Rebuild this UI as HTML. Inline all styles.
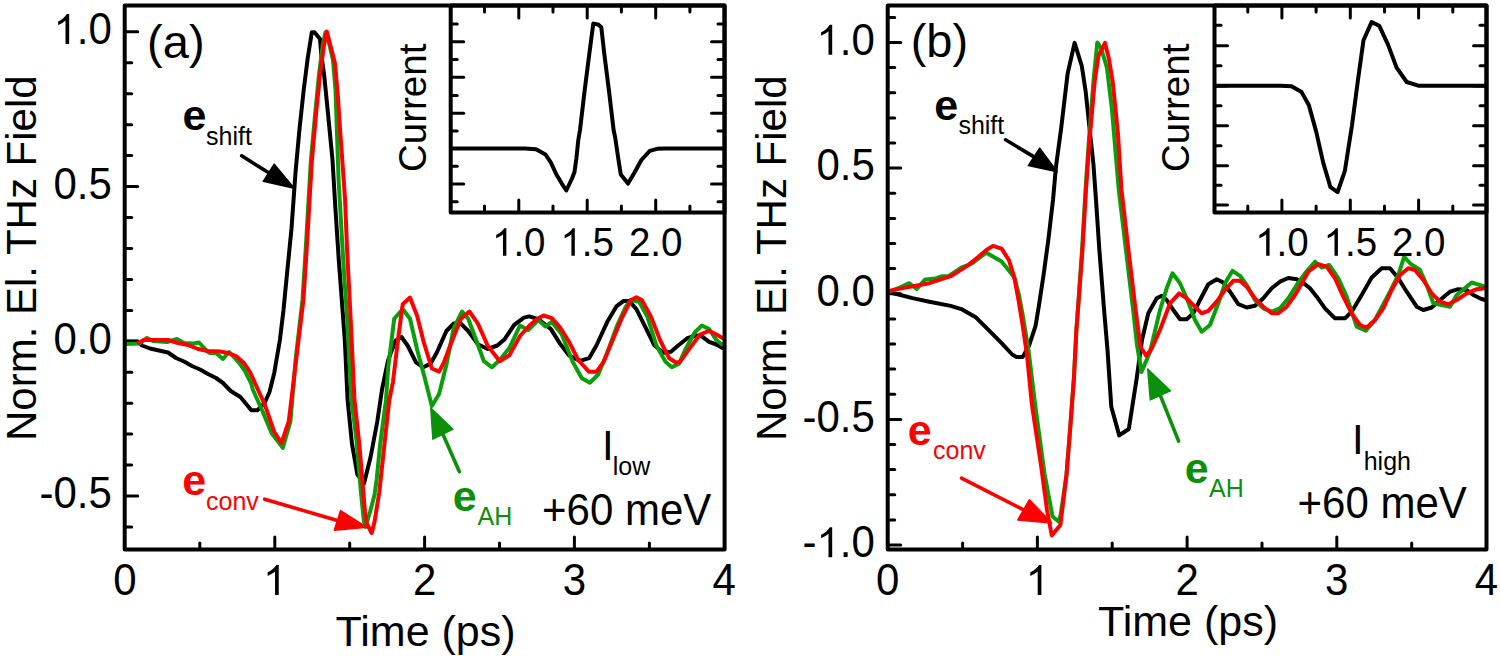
<!DOCTYPE html>
<html><head><meta charset="utf-8"><title>THz field</title>
<style>html,body{margin:0;padding:0;background:#fff;}body{width:1500px;height:660px;overflow:hidden;font-family:"Liberation Sans",sans-serif;}svg{display:block;}</style>
</head><body>
<svg width="1500" height="660" viewBox="0 0 1500 660" font-family="Liberation Sans, sans-serif">
<rect width="1500" height="660" fill="#fff"/>
<line x1="124.7" y1="527.0" x2="131.7" y2="527.0" stroke="#000" stroke-width="3.0" stroke-linecap="round"/><line x1="124.7" y1="496.1" x2="137.7" y2="496.1" stroke="#000" stroke-width="3.0" stroke-linecap="round"/><line x1="124.7" y1="465.1" x2="131.7" y2="465.1" stroke="#000" stroke-width="3.0" stroke-linecap="round"/><line x1="124.7" y1="434.1" x2="131.7" y2="434.1" stroke="#000" stroke-width="3.0" stroke-linecap="round"/><line x1="124.7" y1="403.2" x2="131.7" y2="403.2" stroke="#000" stroke-width="3.0" stroke-linecap="round"/><line x1="124.7" y1="372.2" x2="131.7" y2="372.2" stroke="#000" stroke-width="3.0" stroke-linecap="round"/><line x1="124.7" y1="341.3" x2="137.7" y2="341.3" stroke="#000" stroke-width="3.0" stroke-linecap="round"/><line x1="124.7" y1="310.4" x2="131.7" y2="310.4" stroke="#000" stroke-width="3.0" stroke-linecap="round"/><line x1="124.7" y1="279.4" x2="131.7" y2="279.4" stroke="#000" stroke-width="3.0" stroke-linecap="round"/><line x1="124.7" y1="248.5" x2="131.7" y2="248.5" stroke="#000" stroke-width="3.0" stroke-linecap="round"/><line x1="124.7" y1="217.5" x2="131.7" y2="217.5" stroke="#000" stroke-width="3.0" stroke-linecap="round"/><line x1="124.7" y1="186.6" x2="137.7" y2="186.6" stroke="#000" stroke-width="3.0" stroke-linecap="round"/><line x1="124.7" y1="155.6" x2="131.7" y2="155.6" stroke="#000" stroke-width="3.0" stroke-linecap="round"/><line x1="124.7" y1="124.7" x2="131.7" y2="124.7" stroke="#000" stroke-width="3.0" stroke-linecap="round"/><line x1="124.7" y1="93.7" x2="131.7" y2="93.7" stroke="#000" stroke-width="3.0" stroke-linecap="round"/><line x1="124.7" y1="62.8" x2="131.7" y2="62.8" stroke="#000" stroke-width="3.0" stroke-linecap="round"/><line x1="124.7" y1="31.8" x2="137.7" y2="31.8" stroke="#000" stroke-width="3.0" stroke-linecap="round"/><line x1="199.8" y1="549.5" x2="199.8" y2="543.0" stroke="#000" stroke-width="3.0" stroke-linecap="round"/><line x1="274.8" y1="549.5" x2="274.8" y2="537.0" stroke="#000" stroke-width="3.0" stroke-linecap="round"/><line x1="349.7" y1="549.5" x2="349.7" y2="543.0" stroke="#000" stroke-width="3.0" stroke-linecap="round"/><line x1="424.6" y1="549.5" x2="424.6" y2="537.0" stroke="#000" stroke-width="3.0" stroke-linecap="round"/><line x1="499.5" y1="549.5" x2="499.5" y2="543.0" stroke="#000" stroke-width="3.0" stroke-linecap="round"/><line x1="574.4" y1="549.5" x2="574.4" y2="537.0" stroke="#000" stroke-width="3.0" stroke-linecap="round"/><line x1="649.4" y1="549.5" x2="649.4" y2="543.0" stroke="#000" stroke-width="3.0" stroke-linecap="round"/><path d="M373 0L285 0L285 560C264 540 236 520 201 499C167 479 136 464 109 454L109 539C158 562 201 590 238 623C275 656 301 688 317 716L373 716Z" fill="#000" transform="translate(53.52,44.10) scale(0.04200,-0.04200)"/><text transform="translate(76.87,44.10) scale(1,1.04)" font-size="42" fill="#000">.0</text><text transform="translate(53.52,198.85) scale(1,1.04)" font-size="42" fill="#000">0.5</text><text transform="translate(53.52,353.60) scale(1,1.04)" font-size="42" fill="#000">0.0</text><text transform="translate(39.53,508.35) scale(1,1.04)" font-size="42" fill="#000">-0.5</text><text transform="translate(113.22,595.00) scale(1,1.04)" font-size="42" fill="#000">0</text><path d="M373 0L285 0L285 560C264 540 236 520 201 499C167 479 136 464 109 454L109 539C158 562 201 590 238 623C275 656 301 688 317 716L373 716Z" fill="#000" transform="translate(263.07,595.00) scale(0.04200,-0.04200)"/><text transform="translate(412.92,595.00) scale(1,1.04)" font-size="42" fill="#000">2</text><text transform="translate(562.77,595.00) scale(1,1.04)" font-size="42" fill="#000">3</text><text transform="translate(712.62,595.00) scale(1,1.04)" font-size="42" fill="#000">4</text><text x="425.6" y="645.5" font-size="43" text-anchor="middle" font-weight="normal" fill="#000" >Time (ps)</text><text x="0" y="0" font-size="42" text-anchor="middle" transform="translate(36.4,258.2) rotate(-90)">Norm. El. THz Field</text>
<line x1="887.7" y1="545.0" x2="900.7" y2="545.0" stroke="#000" stroke-width="3.0" stroke-linecap="round"/><line x1="887.7" y1="519.9" x2="894.7" y2="519.9" stroke="#000" stroke-width="3.0" stroke-linecap="round"/><line x1="887.7" y1="494.8" x2="894.7" y2="494.8" stroke="#000" stroke-width="3.0" stroke-linecap="round"/><line x1="887.7" y1="469.6" x2="894.7" y2="469.6" stroke="#000" stroke-width="3.0" stroke-linecap="round"/><line x1="887.7" y1="444.5" x2="894.7" y2="444.5" stroke="#000" stroke-width="3.0" stroke-linecap="round"/><line x1="887.7" y1="419.4" x2="900.7" y2="419.4" stroke="#000" stroke-width="3.0" stroke-linecap="round"/><line x1="887.7" y1="394.2" x2="894.7" y2="394.2" stroke="#000" stroke-width="3.0" stroke-linecap="round"/><line x1="887.7" y1="369.1" x2="894.7" y2="369.1" stroke="#000" stroke-width="3.0" stroke-linecap="round"/><line x1="887.7" y1="344.0" x2="894.7" y2="344.0" stroke="#000" stroke-width="3.0" stroke-linecap="round"/><line x1="887.7" y1="318.9" x2="894.7" y2="318.9" stroke="#000" stroke-width="3.0" stroke-linecap="round"/><line x1="887.7" y1="293.8" x2="900.7" y2="293.8" stroke="#000" stroke-width="3.0" stroke-linecap="round"/><line x1="887.7" y1="268.6" x2="894.7" y2="268.6" stroke="#000" stroke-width="3.0" stroke-linecap="round"/><line x1="887.7" y1="243.5" x2="894.7" y2="243.5" stroke="#000" stroke-width="3.0" stroke-linecap="round"/><line x1="887.7" y1="218.4" x2="894.7" y2="218.4" stroke="#000" stroke-width="3.0" stroke-linecap="round"/><line x1="887.7" y1="193.2" x2="894.7" y2="193.2" stroke="#000" stroke-width="3.0" stroke-linecap="round"/><line x1="887.7" y1="168.1" x2="900.7" y2="168.1" stroke="#000" stroke-width="3.0" stroke-linecap="round"/><line x1="887.7" y1="143.0" x2="894.7" y2="143.0" stroke="#000" stroke-width="3.0" stroke-linecap="round"/><line x1="887.7" y1="117.9" x2="894.7" y2="117.9" stroke="#000" stroke-width="3.0" stroke-linecap="round"/><line x1="887.7" y1="92.8" x2="894.7" y2="92.8" stroke="#000" stroke-width="3.0" stroke-linecap="round"/><line x1="887.7" y1="67.6" x2="894.7" y2="67.6" stroke="#000" stroke-width="3.0" stroke-linecap="round"/><line x1="887.7" y1="42.5" x2="900.7" y2="42.5" stroke="#000" stroke-width="3.0" stroke-linecap="round"/><line x1="887.7" y1="17.4" x2="894.7" y2="17.4" stroke="#000" stroke-width="3.0" stroke-linecap="round"/><line x1="962.6" y1="549.6" x2="962.6" y2="543.1" stroke="#000" stroke-width="3.0" stroke-linecap="round"/><line x1="1037.4" y1="549.6" x2="1037.4" y2="537.1" stroke="#000" stroke-width="3.0" stroke-linecap="round"/><line x1="1112.2" y1="549.6" x2="1112.2" y2="543.1" stroke="#000" stroke-width="3.0" stroke-linecap="round"/><line x1="1187.1" y1="549.6" x2="1187.1" y2="537.1" stroke="#000" stroke-width="3.0" stroke-linecap="round"/><line x1="1262.0" y1="549.6" x2="1262.0" y2="543.1" stroke="#000" stroke-width="3.0" stroke-linecap="round"/><line x1="1336.8" y1="549.6" x2="1336.8" y2="537.1" stroke="#000" stroke-width="3.0" stroke-linecap="round"/><line x1="1411.7" y1="549.6" x2="1411.7" y2="543.1" stroke="#000" stroke-width="3.0" stroke-linecap="round"/><path d="M373 0L285 0L285 560C264 540 236 520 201 499C167 479 136 464 109 454L109 539C158 562 201 590 238 623C275 656 301 688 317 716L373 716Z" fill="#000" transform="translate(816.52,54.80) scale(0.04200,-0.04200)"/><text transform="translate(839.87,54.80) scale(1,1.04)" font-size="42" fill="#000">.0</text><text transform="translate(816.52,180.43) scale(1,1.04)" font-size="42" fill="#000">0.5</text><text transform="translate(816.52,306.05) scale(1,1.04)" font-size="42" fill="#000">0.0</text><text transform="translate(802.53,431.68) scale(1,1.04)" font-size="42" fill="#000">-0.5</text><text transform="translate(802.53,557.30) scale(1,1.04)" font-size="42" fill="#000">-</text><path d="M373 0L285 0L285 560C264 540 236 520 201 499C167 479 136 464 109 454L109 539C158 562 201 590 238 623C275 656 301 688 317 716L373 716Z" fill="#000" transform="translate(816.52,557.30) scale(0.04200,-0.04200)"/><text transform="translate(839.87,557.30) scale(1,1.04)" font-size="42" fill="#000">.0</text><text transform="translate(876.02,595.00) scale(1,1.04)" font-size="42" fill="#000">0</text><path d="M373 0L285 0L285 560C264 540 236 520 201 499C167 479 136 464 109 454L109 539C158 562 201 590 238 623C275 656 301 688 317 716L373 716Z" fill="#000" transform="translate(1025.72,595.00) scale(0.04200,-0.04200)"/><text transform="translate(1175.42,595.00) scale(1,1.04)" font-size="42" fill="#000">2</text><text transform="translate(1325.12,595.00) scale(1,1.04)" font-size="42" fill="#000">3</text><text transform="translate(1474.82,595.00) scale(1,1.04)" font-size="42" fill="#000">4</text><text x="1188.0" y="635.5" font-size="43" text-anchor="middle" font-weight="normal" fill="#000" >Time (ps)</text><text x="0" y="0" font-size="42" text-anchor="middle" transform="translate(786.4,258.2) rotate(-90)">Norm. El. THz Field</text>
<polyline points="125.0,341.5 138.0,341.5 142.0,345.5 150.0,348.5 159.0,350.5 168.0,352.5 176.0,358.0 184.0,361.5 192.0,366.0 200.0,369.5 208.0,374.0 216.0,378.0 223.0,383.0 230.7,391.0 240.4,397.0 251.3,410.3 257.3,410.3 264.6,403.0 269.5,392.0 274.3,372.7 279.9,340.0 283.5,310.0 286.7,277.0 291.5,228.5 295.5,172.7 299.5,129.0 303.6,90.9 307.7,58.2 311.8,32.3 314.5,32.3 320.0,39.0 321.4,55.5 324.1,74.5 328.2,115.5 332.5,160.0 335.5,210.0 338.8,260.0 344.8,340.0 347.6,400.0 352.0,443.9 357.4,474.6 364.0,483.4 370.6,457.0 377.2,422.0 382.1,389.0 388.2,360.0 395.5,340.6 401.5,337.0 407.6,345.5 416.0,362.4 423.3,367.3 430.6,363.6 436.7,352.7 446.4,331.0 453.6,323.6 460.9,323.6 468.2,331.0 477.9,344.2 487.6,349.0 497.3,345.5 504.5,339.4 514.2,324.8 523.9,317.6 529.1,316.4 538.2,319.1 550.9,329.1 560.0,343.6 569.1,355.5 580.0,360.9 589.1,358.2 596.4,345.5 607.3,321.8 616.4,306.4 623.6,300.9 629.1,300.9 636.4,309.1 645.5,327.3 654.5,345.5 663.6,352.7 670.9,351.8 678.2,345.5 687.3,338.2 696.4,335.5 701.8,336.4 709.1,341.8 716.4,344.5 723.0,348.2" fill="none" stroke="#000" stroke-width="4.0" stroke-linejoin="round" stroke-linecap="round"/>
<polyline points="125.0,344.0 139.0,343.5 147.0,338.0 153.0,341.0 167.0,342.0 177.0,339.0 184.0,343.0 194.0,343.5 199.0,342.5 207.0,351.0 210.0,353.0 216.0,353.0 223.0,359.0 229.0,352.0 234.0,357.0 240.0,364.0 245.0,371.0 251.0,383.0 253.0,390.0 262.0,410.0 271.5,433.0 282.8,447.9 290.5,421.2 295.5,360.6 302.5,300.0 305.5,252.7 310.8,161.8 315.0,115.5 319.0,74.5 322.8,44.5 325.5,32.3 329.5,45.0 333.0,60.0 335.5,90.0 338.6,180.0 342.5,248.0 344.5,280.0 347.0,316.0 351.5,400.0 356.5,440.0 361.2,495.0 364.0,522.0 365.5,527.0 370.0,512.0 374.5,495.0 376.6,480.0 380.2,444.0 386.0,400.0 388.2,367.3 394.2,318.8 402.7,309.0 410.0,318.8 417.3,350.3 424.5,377.0 431.8,406.0 439.1,394.0 446.4,364.8 453.6,328.5 462.1,311.5 468.2,318.8 475.5,338.2 483.9,361.2 492.0,367.3 499.7,360.0 509.4,347.9 520.0,325.5 528.2,330.0 538.2,320.0 545.5,326.4 551.8,321.8 561.8,334.5 572.7,361.8 581.8,378.2 590.0,382.7 598.2,374.5 607.3,352.7 616.4,327.3 625.5,307.3 630.9,300.0 639.1,301.8 647.3,316.4 656.4,345.5 665.5,361.8 671.8,367.3 679.1,363.6 685.5,349.1 694.5,332.7 701.8,325.5 709.1,329.1 716.4,340.0 722.0,344.5" fill="none" stroke="#0a9f0a" stroke-width="4.0" stroke-linejoin="round" stroke-linecap="round"/>
<polyline points="138.5,342.5 144.0,340.0 154.0,340.0 168.0,340.0 178.0,343.0 188.0,345.0 198.0,349.0 208.0,351.0 220.0,351.5 228.0,353.0 236.0,356.0 244.0,363.0 250.0,372.0 255.0,383.0 264.6,404.2 274.3,432.0 281.6,443.0 288.8,421.2 296.1,360.6 303.4,300.0 306.5,252.7 311.8,161.8 315.9,115.5 320.0,74.5 324.1,44.5 326.8,31.5 330.9,47.3 335.0,63.6 337.7,93.6 340.4,134.5 343.2,172.7 345.1,200.0 347.0,248.0 350.5,316.0 354.5,400.0 359.3,443.9 365.0,512.0 367.0,524.0 371.7,533.0 374.5,522.0 379.3,492.2 384.5,443.9 389.3,400.0 393.0,381.8 397.9,340.6 402.7,304.2 410.0,297.5 417.3,316.4 423.3,340.6 431.8,368.5 439.1,371.6 443.9,362.4 451.2,343.0 460.9,318.8 469.4,311.5 477.9,323.6 487.6,345.5 499.7,361.2 509.4,355.2 520.0,336.0 530.0,325.0 538.2,318.2 543.6,315.5 551.8,318.2 560.0,327.3 569.1,341.8 578.2,360.0 589.1,371.8 596.4,371.8 603.6,361.8 612.7,340.0 621.8,318.2 630.9,300.0 636.4,297.3 641.8,300.0 650.9,316.4 660.0,340.0 669.1,358.2 676.4,362.7 680.0,361.8 689.1,349.1 700.0,334.5 709.1,330.9 716.4,334.5 723.0,338.2" fill="none" stroke="#ff0000" stroke-width="4.0" stroke-linejoin="round" stroke-linecap="round"/>
<polyline points="888.0,292.1 897.6,294.3 912.5,298.1 929.4,301.7 950.7,305.9 961.3,309.1 976.1,317.6 988.9,330.3 1001.6,343.1 1012.2,354.5 1016.4,356.9 1022.8,356.9 1029.2,345.2 1035.5,326.1 1038.8,306.4 1043.6,274.8 1048.5,238.5 1053.0,200.0 1056.0,166.5 1061.2,127.9 1067.6,73.8 1074.6,42.9 1081.8,66.0 1085.7,91.8 1089.5,127.9 1093.4,163.9 1096.0,200.0 1099.4,250.6 1104.2,311.2 1107.5,350.0 1111.3,406.8 1119.2,435.4 1128.8,429.0 1136.7,378.2 1142.0,340.0 1148.3,313.3 1156.7,298.3 1161.7,295.8 1166.7,300.0 1173.3,310.0 1180.0,319.2 1186.7,319.2 1193.3,313.3 1200.0,300.0 1208.3,284.2 1216.7,279.2 1223.3,282.5 1230.0,291.7 1238.3,304.2 1246.7,307.5 1255.0,305.8 1263.3,298.3 1271.7,288.3 1280.0,281.7 1288.3,278.0 1296.7,279.2 1305.0,284.2 1310.0,288.3 1316.7,296.7 1325.0,308.3 1335.0,318.3 1345.0,318.3 1351.7,311.7 1361.7,295.0 1371.7,277.5 1381.7,268.3 1390.0,268.3 1398.3,278.3 1406.7,291.7 1416.7,306.7 1423.3,310.0 1431.7,307.5 1440.0,300.0 1450.0,291.7 1458.3,289.2 1466.7,290.0 1473.3,295.0 1480.0,298.3 1485.0,300.0" fill="none" stroke="#000" stroke-width="4.0" stroke-linejoin="round" stroke-linecap="round"/>
<polyline points="888.0,292.1 899.7,287.5 909.3,283.2 916.7,289.0 925.2,279.4 935.8,278.4 942.2,276.2 948.5,276.2 961.3,267.7 971.9,263.5 984.6,254.0 986.7,252.9 1001.6,261.4 1014.3,277.3 1019.0,295.0 1022.8,315.5 1028.5,350.0 1035.0,403.6 1044.5,473.5 1052.5,516.5 1058.6,521.5 1060.6,515.0 1066.5,475.0 1070.3,427.0 1073.9,378.5 1076.4,330.0 1078.6,299.0 1082.0,250.6 1085.5,190.0 1088.5,146.0 1093.5,81.0 1097.3,42.4 1101.0,48.0 1107.0,68.0 1112.0,110.0 1118.8,190.0 1126.0,250.6 1133.3,311.2 1137.0,345.0 1141.5,372.0 1150.0,352.0 1160.0,310.0 1166.7,288.3 1172.5,273.3 1180.0,283.3 1187.5,300.0 1195.0,320.0 1201.7,331.7 1210.0,325.0 1218.3,303.3 1225.0,283.3 1232.5,270.8 1240.0,275.8 1246.7,285.0 1255.0,300.0 1263.3,308.3 1271.7,311.7 1280.0,308.3 1288.3,298.3 1296.7,285.0 1305.0,273.3 1315.0,261.7 1321.7,267.5 1329.2,265.0 1338.3,278.3 1346.7,296.7 1356.7,326.7 1365.8,330.8 1375.0,320.0 1390.0,291.7 1398.3,275.0 1404.2,256.7 1410.0,263.3 1420.0,270.0 1426.7,285.0 1433.3,303.3 1450.0,306.7 1456.7,295.0 1471.7,282.5 1485.0,286.7" fill="none" stroke="#0a9f0a" stroke-width="4.0" stroke-linejoin="round" stroke-linecap="round"/>
<polyline points="888.0,291.1 904.0,287.9 929.4,283.2 950.7,276.2 967.6,265.6 978.2,257.1 986.7,249.7 993.1,245.9 1001.6,248.6 1009.0,260.3 1014.3,277.3 1018.6,300.6 1022.8,326.1 1027.1,355.8 1031.8,403.6 1041.3,467.2 1047.0,510.0 1051.8,535.5 1060.4,525.0 1066.5,475.0 1070.3,427.0 1073.9,378.5 1076.4,330.0 1078.8,299.1 1082.4,250.6 1086.0,190.0 1089.0,145.9 1094.7,81.5 1098.5,55.8 1105.0,42.9 1108.8,58.3 1112.7,81.5 1117.9,133.0 1121.5,190.0 1128.5,250.6 1135.8,311.2 1140.5,347.0 1146.3,355.9 1152.0,348.0 1160.0,330.0 1170.0,303.3 1179.2,293.3 1186.7,298.3 1195.0,306.7 1201.7,313.3 1208.3,310.8 1216.7,301.7 1225.0,290.0 1233.3,280.8 1240.0,280.8 1246.7,286.7 1255.0,298.3 1263.3,306.7 1271.7,313.3 1278.3,313.3 1286.7,306.7 1295.0,295.0 1302.0,283.0 1308.3,271.7 1318.3,264.2 1326.7,266.7 1335.0,278.3 1343.3,296.7 1351.7,313.3 1360.0,325.0 1366.7,327.5 1375.0,320.0 1383.3,308.3 1391.7,290.0 1400.0,275.0 1408.3,268.3 1415.0,270.0 1423.3,280.0 1431.7,293.3 1440.0,301.7 1448.3,304.2 1456.7,300.0 1466.7,293.3 1476.7,289.2 1485.0,288.3" fill="none" stroke="#ff0000" stroke-width="4.0" stroke-linejoin="round" stroke-linecap="round"/>
<rect x="450.7" y="5.4" width="273.8" height="207.1" fill="#fff" stroke="none"/><line x1="484.5" y1="212.5" x2="484.5" y2="206.0" stroke="#000" stroke-width="3.0" stroke-linecap="round"/><line x1="484.5" y1="5.4" x2="484.5" y2="11.9" stroke="#000" stroke-width="3.0" stroke-linecap="round"/><line x1="518.8" y1="212.5" x2="518.8" y2="200.0" stroke="#000" stroke-width="3.0" stroke-linecap="round"/><line x1="518.8" y1="5.4" x2="518.8" y2="17.9" stroke="#000" stroke-width="3.0" stroke-linecap="round"/><line x1="553.0" y1="212.5" x2="553.0" y2="206.0" stroke="#000" stroke-width="3.0" stroke-linecap="round"/><line x1="553.0" y1="5.4" x2="553.0" y2="11.9" stroke="#000" stroke-width="3.0" stroke-linecap="round"/><line x1="587.2" y1="212.5" x2="587.2" y2="200.0" stroke="#000" stroke-width="3.0" stroke-linecap="round"/><line x1="587.2" y1="5.4" x2="587.2" y2="17.9" stroke="#000" stroke-width="3.0" stroke-linecap="round"/><line x1="621.4" y1="212.5" x2="621.4" y2="206.0" stroke="#000" stroke-width="3.0" stroke-linecap="round"/><line x1="621.4" y1="5.4" x2="621.4" y2="11.9" stroke="#000" stroke-width="3.0" stroke-linecap="round"/><line x1="655.7" y1="212.5" x2="655.7" y2="200.0" stroke="#000" stroke-width="3.0" stroke-linecap="round"/><line x1="655.7" y1="5.4" x2="655.7" y2="17.9" stroke="#000" stroke-width="3.0" stroke-linecap="round"/><line x1="689.9" y1="212.5" x2="689.9" y2="206.0" stroke="#000" stroke-width="3.0" stroke-linecap="round"/><line x1="689.9" y1="5.4" x2="689.9" y2="11.9" stroke="#000" stroke-width="3.0" stroke-linecap="round"/><line x1="450.7" y1="41.7" x2="463.7" y2="41.7" stroke="#000" stroke-width="3.0" stroke-linecap="round"/><line x1="724.5" y1="41.7" x2="711.5" y2="41.7" stroke="#000" stroke-width="3.0" stroke-linecap="round"/><line x1="450.7" y1="77.3" x2="463.7" y2="77.3" stroke="#000" stroke-width="3.0" stroke-linecap="round"/><line x1="724.5" y1="77.3" x2="711.5" y2="77.3" stroke="#000" stroke-width="3.0" stroke-linecap="round"/><line x1="450.7" y1="113.3" x2="463.7" y2="113.3" stroke="#000" stroke-width="3.0" stroke-linecap="round"/><line x1="724.5" y1="113.3" x2="711.5" y2="113.3" stroke="#000" stroke-width="3.0" stroke-linecap="round"/><line x1="450.7" y1="148.5" x2="463.7" y2="148.5" stroke="#000" stroke-width="3.0" stroke-linecap="round"/><line x1="724.5" y1="148.5" x2="711.5" y2="148.5" stroke="#000" stroke-width="3.0" stroke-linecap="round"/><line x1="450.7" y1="184.0" x2="463.7" y2="184.0" stroke="#000" stroke-width="3.0" stroke-linecap="round"/><line x1="724.5" y1="184.0" x2="711.5" y2="184.0" stroke="#000" stroke-width="3.0" stroke-linecap="round"/><line x1="450.7" y1="24.0" x2="457.2" y2="24.0" stroke="#000" stroke-width="3.0" stroke-linecap="round"/><line x1="724.5" y1="24.0" x2="718.0" y2="24.0" stroke="#000" stroke-width="3.0" stroke-linecap="round"/><line x1="450.7" y1="59.4" x2="457.2" y2="59.4" stroke="#000" stroke-width="3.0" stroke-linecap="round"/><line x1="724.5" y1="59.4" x2="718.0" y2="59.4" stroke="#000" stroke-width="3.0" stroke-linecap="round"/><line x1="450.7" y1="95.6" x2="457.2" y2="95.6" stroke="#000" stroke-width="3.0" stroke-linecap="round"/><line x1="724.5" y1="95.6" x2="718.0" y2="95.6" stroke="#000" stroke-width="3.0" stroke-linecap="round"/><line x1="450.7" y1="131.0" x2="457.2" y2="131.0" stroke="#000" stroke-width="3.0" stroke-linecap="round"/><line x1="724.5" y1="131.0" x2="718.0" y2="131.0" stroke="#000" stroke-width="3.0" stroke-linecap="round"/><line x1="450.7" y1="166.2" x2="457.2" y2="166.2" stroke="#000" stroke-width="3.0" stroke-linecap="round"/><line x1="724.5" y1="166.2" x2="718.0" y2="166.2" stroke="#000" stroke-width="3.0" stroke-linecap="round"/><line x1="450.7" y1="201.8" x2="457.2" y2="201.8" stroke="#000" stroke-width="3.0" stroke-linecap="round"/><line x1="724.5" y1="201.8" x2="718.0" y2="201.8" stroke="#000" stroke-width="3.0" stroke-linecap="round"/><path d="M450.7,5.4 L724.5,5.4 L724.5,212.5 L450.7,212.5 Z" fill="none" stroke="#000" stroke-width="4.0" stroke-linejoin="round"/><path d="M373 0L285 0L285 560C264 540 236 520 201 499C167 479 136 464 109 454L109 539C158 562 201 590 238 623C275 656 301 688 317 716L373 716Z" fill="#000" transform="translate(491.99,255.80) scale(0.03850,-0.03850)"/><text transform="translate(513.40,255.80) scale(1,1.04)" font-size="38.5" fill="#000">.0</text><path d="M373 0L285 0L285 560C264 540 236 520 201 499C167 479 136 464 109 454L109 539C158 562 201 590 238 623C275 656 301 688 317 716L373 716Z" fill="#000" transform="translate(560.44,255.80) scale(0.03850,-0.03850)"/><text transform="translate(581.85,255.80) scale(1,1.04)" font-size="38.5" fill="#000">.5</text><text transform="translate(628.89,255.80) scale(1,1.04)" font-size="38.5" fill="#000">2.0</text><text x="0" y="0" font-size="38.5" text-anchor="middle" transform="translate(425.9,107.8) rotate(-90)">Current</text>
<rect x="1214.5" y="5.4" width="272.0" height="207.1" fill="#fff" stroke="none"/><line x1="1247.8" y1="212.5" x2="1247.8" y2="206.0" stroke="#000" stroke-width="3.0" stroke-linecap="round"/><line x1="1247.8" y1="5.4" x2="1247.8" y2="11.9" stroke="#000" stroke-width="3.0" stroke-linecap="round"/><line x1="1281.9" y1="212.5" x2="1281.9" y2="200.0" stroke="#000" stroke-width="3.0" stroke-linecap="round"/><line x1="1281.9" y1="5.4" x2="1281.9" y2="17.9" stroke="#000" stroke-width="3.0" stroke-linecap="round"/><line x1="1316.1" y1="212.5" x2="1316.1" y2="206.0" stroke="#000" stroke-width="3.0" stroke-linecap="round"/><line x1="1316.1" y1="5.4" x2="1316.1" y2="11.9" stroke="#000" stroke-width="3.0" stroke-linecap="round"/><line x1="1350.3" y1="212.5" x2="1350.3" y2="200.0" stroke="#000" stroke-width="3.0" stroke-linecap="round"/><line x1="1350.3" y1="5.4" x2="1350.3" y2="17.9" stroke="#000" stroke-width="3.0" stroke-linecap="round"/><line x1="1384.5" y1="212.5" x2="1384.5" y2="206.0" stroke="#000" stroke-width="3.0" stroke-linecap="round"/><line x1="1384.5" y1="5.4" x2="1384.5" y2="11.9" stroke="#000" stroke-width="3.0" stroke-linecap="round"/><line x1="1418.6" y1="212.5" x2="1418.6" y2="200.0" stroke="#000" stroke-width="3.0" stroke-linecap="round"/><line x1="1418.6" y1="5.4" x2="1418.6" y2="17.9" stroke="#000" stroke-width="3.0" stroke-linecap="round"/><line x1="1452.8" y1="212.5" x2="1452.8" y2="206.0" stroke="#000" stroke-width="3.0" stroke-linecap="round"/><line x1="1452.8" y1="5.4" x2="1452.8" y2="11.9" stroke="#000" stroke-width="3.0" stroke-linecap="round"/><line x1="1214.5" y1="45.7" x2="1227.5" y2="45.7" stroke="#000" stroke-width="3.0" stroke-linecap="round"/><line x1="1486.5" y1="45.7" x2="1473.5" y2="45.7" stroke="#000" stroke-width="3.0" stroke-linecap="round"/><line x1="1214.5" y1="86.0" x2="1227.5" y2="86.0" stroke="#000" stroke-width="3.0" stroke-linecap="round"/><line x1="1486.5" y1="86.0" x2="1473.5" y2="86.0" stroke="#000" stroke-width="3.0" stroke-linecap="round"/><line x1="1214.5" y1="125.7" x2="1227.5" y2="125.7" stroke="#000" stroke-width="3.0" stroke-linecap="round"/><line x1="1486.5" y1="125.7" x2="1473.5" y2="125.7" stroke="#000" stroke-width="3.0" stroke-linecap="round"/><line x1="1214.5" y1="165.7" x2="1227.5" y2="165.7" stroke="#000" stroke-width="3.0" stroke-linecap="round"/><line x1="1486.5" y1="165.7" x2="1473.5" y2="165.7" stroke="#000" stroke-width="3.0" stroke-linecap="round"/><line x1="1214.5" y1="205.0" x2="1227.5" y2="205.0" stroke="#000" stroke-width="3.0" stroke-linecap="round"/><line x1="1486.5" y1="205.0" x2="1473.5" y2="205.0" stroke="#000" stroke-width="3.0" stroke-linecap="round"/><line x1="1214.5" y1="25.3" x2="1221.0" y2="25.3" stroke="#000" stroke-width="3.0" stroke-linecap="round"/><line x1="1486.5" y1="25.3" x2="1480.0" y2="25.3" stroke="#000" stroke-width="3.0" stroke-linecap="round"/><line x1="1214.5" y1="65.7" x2="1221.0" y2="65.7" stroke="#000" stroke-width="3.0" stroke-linecap="round"/><line x1="1486.5" y1="65.7" x2="1480.0" y2="65.7" stroke="#000" stroke-width="3.0" stroke-linecap="round"/><line x1="1214.5" y1="105.7" x2="1221.0" y2="105.7" stroke="#000" stroke-width="3.0" stroke-linecap="round"/><line x1="1486.5" y1="105.7" x2="1480.0" y2="105.7" stroke="#000" stroke-width="3.0" stroke-linecap="round"/><line x1="1214.5" y1="145.7" x2="1221.0" y2="145.7" stroke="#000" stroke-width="3.0" stroke-linecap="round"/><line x1="1486.5" y1="145.7" x2="1480.0" y2="145.7" stroke="#000" stroke-width="3.0" stroke-linecap="round"/><line x1="1214.5" y1="185.3" x2="1221.0" y2="185.3" stroke="#000" stroke-width="3.0" stroke-linecap="round"/><line x1="1486.5" y1="185.3" x2="1480.0" y2="185.3" stroke="#000" stroke-width="3.0" stroke-linecap="round"/><path d="M1214.5,5.4 L1486.5,5.4 L1486.5,212.5 L1214.5,212.5 Z" fill="none" stroke="#000" stroke-width="4.0" stroke-linejoin="round"/><path d="M373 0L285 0L285 560C264 540 236 520 201 499C167 479 136 464 109 454L109 539C158 562 201 590 238 623C275 656 301 688 317 716L373 716Z" fill="#000" transform="translate(1255.19,255.70) scale(0.03850,-0.03850)"/><text transform="translate(1276.60,255.70) scale(1,1.04)" font-size="38.5" fill="#000">.0</text><path d="M373 0L285 0L285 560C264 540 236 520 201 499C167 479 136 464 109 454L109 539C158 562 201 590 238 623C275 656 301 688 317 716L373 716Z" fill="#000" transform="translate(1323.54,255.70) scale(0.03850,-0.03850)"/><text transform="translate(1344.95,255.70) scale(1,1.04)" font-size="38.5" fill="#000">.5</text><text transform="translate(1391.89,255.70) scale(1,1.04)" font-size="38.5" fill="#000">2.0</text><text x="0" y="0" font-size="38.5" text-anchor="middle" transform="translate(1189.4,107.8) rotate(-90)">Current</text>
<polyline points="451.0,148.5 525.0,148.5 536.0,149.3 545.5,154.5 550.9,162.7 556.4,174.5 561.8,183.6 566.3,190.5 572.0,178.5 574.5,172.0 576.4,158.2 578.3,140.0 580.0,130.0 584.5,91.8 589.1,55.5 593.3,23.6 598.2,24.5 601.3,27.3 604.5,55.5 609.1,91.8 613.6,130.0 615.3,138.2 618.3,158.8 620.8,174.5 628.0,183.6 634.1,173.3 641.4,160.0 649.8,150.9 657.1,148.8 665.0,148.5 723.0,148.5" fill="none" stroke="#000" stroke-width="4.0" stroke-linejoin="round" stroke-linecap="round"/>
<polyline points="1215.0,85.8 1280.0,85.8 1291.5,86.3 1301.6,92.1 1308.8,105.0 1316.0,130.9 1323.2,162.6 1330.4,187.1 1337.6,192.0 1344.8,171.2 1352.0,125.2 1357.7,82.0 1363.5,40.2 1371.6,22.1 1379.3,25.8 1388.0,44.6 1396.6,67.6 1406.7,82.0 1418.2,85.7 1430.0,85.8 1486.0,85.8" fill="none" stroke="#000" stroke-width="4.0" stroke-linejoin="round" stroke-linecap="round"/>
<path d="M124.7,5.4 L724.6,5.4 L724.6,549.5 L124.7,549.5 Z" fill="none" stroke="#000" stroke-width="4.0" stroke-linejoin="round"/>
<path d="M887.7,5.4 L1486.5,5.4 L1486.5,549.6 L887.7,549.6 Z" fill="none" stroke="#000" stroke-width="4.0" stroke-linejoin="round"/>
<text x="147.1" y="57.7" font-size="47" text-anchor="start" font-weight="normal" fill="#000" >(a)</text>
<text x="910.7" y="56.5" font-size="47" text-anchor="start" font-weight="normal" fill="#000" >(b)</text>
<text x="182.5" y="130.4" font-size="43" text-anchor="start" font-weight="bold" fill="#000" >e</text>
<text x="206.0" y="144.7" font-size="25" text-anchor="start" font-weight="normal" fill="#000" >shift</text>
<text x="934.2" y="119.8" font-size="43" text-anchor="start" font-weight="bold" fill="#000" >e</text>
<text x="958.4" y="133.8" font-size="25" text-anchor="start" font-weight="normal" fill="#000" >shift</text>
<line x1="241.7" y1="155.8" x2="268.8" y2="172.8" stroke="#000" stroke-width="3.6" stroke-linecap="round"/><polygon points="294.2,188.3 274.2,164.2 263.3,181.3" fill="#000" stroke="#000" stroke-width="1.5" stroke-linejoin="round"/>
<line x1="1005.6" y1="139.8" x2="1034.0" y2="156.9" stroke="#000" stroke-width="3.6" stroke-linecap="round"/><polygon points="1057.1,171.7 1039.7,148.2 1028.3,165.6" fill="#000" stroke="#000" stroke-width="1.5" stroke-linejoin="round"/>
<text x="182.2" y="495.1" font-size="43" text-anchor="start" font-weight="bold" fill="#ff0000" >e</text>
<text x="206.0" y="509.8" font-size="25" text-anchor="start" font-weight="normal" fill="#ff0000" >conv</text>
<text x="907.8" y="445.2" font-size="43" text-anchor="start" font-weight="bold" fill="#ff0000" >e</text>
<text x="933.0" y="459.4" font-size="25" text-anchor="start" font-weight="normal" fill="#ff0000" >conv</text>
<line x1="264.7" y1="499.2" x2="337.4" y2="520.5" stroke="#ff0000" stroke-width="3.6" stroke-linecap="round"/><polygon points="367.0,527.3 340.5,510.6 334.4,530.3" fill="#ff0000" stroke="#ff0000" stroke-width="1.5" stroke-linejoin="round"/>
<line x1="961.5" y1="478.1" x2="1023.6" y2="509.8" stroke="#ff0000" stroke-width="3.6" stroke-linecap="round"/><polygon points="1051.7,523.1 1029.4,499.7 1017.8,519.9" fill="#ff0000" stroke="#ff0000" stroke-width="1.5" stroke-linejoin="round"/>
<text x="452.8" y="510.5" font-size="43" text-anchor="start" font-weight="bold" fill="#0a900a" >e</text>
<text x="477.6" y="525.0" font-size="25" text-anchor="start" font-weight="normal" fill="#0a900a" >AH</text>
<text x="1184.7" y="482.9" font-size="43" text-anchor="start" font-weight="bold" fill="#0a900a" >e</text>
<text x="1209.1" y="496.6" font-size="25" text-anchor="start" font-weight="normal" fill="#0a900a" >AH</text>
<line x1="459.4" y1="471.7" x2="442.9" y2="434.2" stroke="#0a900a" stroke-width="3.6" stroke-linecap="round"/><polygon points="430.8,408.0 453.0,429.2 432.9,439.2" fill="#0a900a" stroke="#0a900a" stroke-width="1.5" stroke-linejoin="round"/>
<line x1="1178.6" y1="441.1" x2="1160.3" y2="395.4" stroke="#0a900a" stroke-width="3.6" stroke-linecap="round"/><polygon points="1147.7,369.0 1170.4,390.9 1150.3,399.9" fill="#0a900a" stroke="#0a900a" stroke-width="1.5" stroke-linejoin="round"/>
<text x="602.1" y="460.4" font-size="42" text-anchor="start" font-weight="normal" fill="#000" >I</text>
<text x="612.8" y="474.5" font-size="25" text-anchor="start" font-weight="normal" fill="#000" >low</text>
<text x="1352.0" y="454.0" font-size="42" text-anchor="start" font-weight="normal" fill="#000" >I</text>
<text x="1363.7" y="469.5" font-size="25" text-anchor="start" font-weight="normal" fill="#000" >high</text>
<text transform="translate(542.1,525.0) scale(1,1.04)" font-size="42">+60 meV</text>
<text transform="translate(1297.6,517.7) scale(1,1.04)" font-size="42">+60 meV</text>
</svg>
</body></html>
